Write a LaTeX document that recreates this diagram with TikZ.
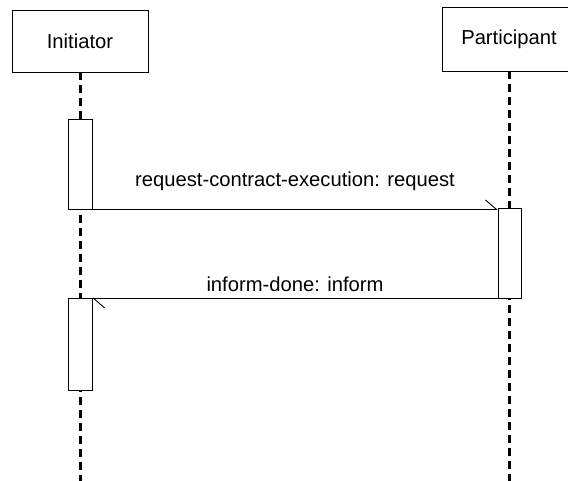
\documentclass[tikz,border=0pt]{standalone}
\usepackage{fontspec}
\setmainfont{Liberation Sans}
\usetikzlibrary{arrows.meta}
\tikzset{
  actor/.style={draw, line width=0.8pt, inner sep=0pt},
  life/.style={line width=3pt, dash pattern=on 8pt off 5pt},
  act/.style={draw, fill=white, line width=0.8pt, minimum width=24pt},
  msg/.style={line width=0.9pt, -{Straight Barb[left,length=11pt,width=19pt]}},
  lbl/.style={font=\fontsize{20.2}{24}\selectfont}
}
\begin{document}
\begin{tikzpicture}[x=1pt,y=-1pt]
  \useasboundingbox (0,0) rectangle (568,481);
  \node[actor, lbl, minimum width=136pt, minimum height=62pt] (init) at (80,41) {Initiator};
  \node[actor, lbl, minimum width=134pt, minimum height=64pt] (part) at (509,39) {Participant};
  \coordinate (initend) at (80,481);
  \coordinate (partend) at (509,481);
  % lifelines
  \draw[life] (init.south) -- (initend);
  \draw[life] (part.south) -- (partend);
  % activations
  \node[act, minimum height=90pt] (a1) at (80,164) {};
  \node[act, minimum width=23pt, minimum height=90pt] (a2) at (509.5,253) {};
  \node[act, minimum height=92pt] (a3) at (80,344) {};
  % messages
  \draw[msg] (a1.south east) -- (a1.south east -| a2.west);
  \node[lbl] (m1) at (295,181) {request-contract-execution: request};
  \draw[msg] (a2.south west) -- (a2.south west -| a3.east);
  \node[lbl] (m2) at (295,284) {inform-done: inform};
\end{tikzpicture}
\end{document}
